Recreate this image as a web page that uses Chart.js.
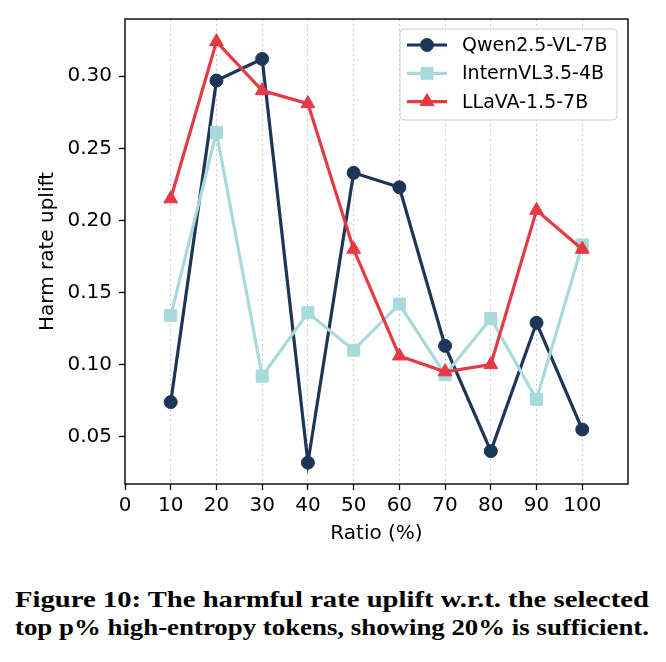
<!DOCTYPE html>
<html>
<head>
<meta charset="utf-8">
<script src="https://cdn.jsdelivr.net/npm/chart.js@4"></script>
<style>
  body { margin: 0; background: #fff; width: 666px; height: 662px; overflow: hidden; position: relative; }
  #wrap { position: absolute; left: 0; top: 0; width: 666px; height: 560px; }
  .cap { position: absolute; left: 15px; font-family: "Liberation Serif", serif; font-weight: bold;
         font-size: 24px; line-height: 26px; color: #000; white-space: nowrap; transform-origin: 0 0; }
</style>
</head>
<body>
<div id="wrap"><canvas id="harm"></canvas></div>
<span class="cap" style="top:586px">Figure 10: The harmful rate uplift w.r.t. the selected</span>
<span class="cap" style="top:614px">top p% high-entropy tokens, showing 20% is sufficient.</span>
<script>
// values
var ratios = [10, 20, 30, 40, 50, 60, 70, 80, 90, 100];
var qwen = [0.074, 0.297, 0.312, 0.032, 0.233, 0.223, 0.113, 0.040, 0.129, 0.055];
var internvl = [0.134, 0.261, 0.092, 0.136, 0.110, 0.142, 0.093, 0.132, 0.076, 0.183];
var llava = [0.215, 0.324, 0.290, 0.281, 0.180, 0.106, 0.095, 0.100, 0.207, 0.180];
var seriesNames = ['Qwen2.5-VL-7B', 'InternVL3.5-4B', 'LLaVA-1.5-7B'];
var xTicks = [0, 10, 20, 30, 40, 50, 60, 70, 80, 90, 100];
var yTicks = [0.05, 0.10, 0.15, 0.20, 0.25, 0.30];

var colors = ['#1d3557', '#a8dadc', '#e63946'];
var styles = ['circle', 'rect', 'triangle'];
var radii = [6.5, 8.5, 8];

// stretch caption lines to the column width
var caps = document.querySelectorAll('.cap');
for (var c = 0; c < caps.length; c++) {
  var w = caps[c].getBoundingClientRect().width;
  caps[c].style.transform = 'scaleX(' + (634 / w) + ')';
}

function pts(vals) {
  var out = [];
  for (var i = 0; i < ratios.length; i++) out.push({x: ratios[i], y: vals[i]});
  return out;
}

function mkDataset(i, vals) {
  return {
    label: seriesNames[i],
    data: pts(vals),
    borderColor: colors[i],
    backgroundColor: colors[i],
    pointBackgroundColor: colors[i],
    pointBorderColor: colors[i],
    pointStyle: styles[i],
    pointRadius: radii[i],
    pointHoverRadius: radii[i],
    pointBorderWidth: 1,
    borderWidth: 3.2,
    tension: 0,
    order: 3 - i
  };
}

function drawMarker(ctx, style, x, y, r) {
  ctx.beginPath();
  if (style == 'circle') {
    ctx.arc(x, y, r, 0, Math.PI * 2);
  } else if (style == 'rect') {
    var s = r * Math.SQRT1_2;
    ctx.rect(x - s, y - s, 2 * s, 2 * s);
  } else {
    var a = -Math.PI / 2;
    ctx.moveTo(x + Math.cos(a) * r, y + Math.sin(a) * r);
    for (var k = 1; k < 3; k++) {
      a += Math.PI * 2 / 3;
      ctx.lineTo(x + Math.cos(a) * r, y + Math.sin(a) * r);
    }
    ctx.closePath();
  }
  ctx.fill();
  ctx.stroke();
}

// frame round the axes + legend box in the upper right
var framePlugin = {
  id: 'framePlugin',
  afterDraw: function(chart) {
    var ctx = chart.ctx, a = chart.chartArea;
    ctx.save();
    ctx.strokeStyle = '#000';
    ctx.lineWidth = 1.4;
    ctx.strokeRect(a.left, a.top, a.right - a.left, a.bottom - a.top);

    var bx = 400, by = 29, bw = 217, bh = 91;
    ctx.beginPath();
    ctx.roundRect(bx, by, bw, bh, 4);
    ctx.fillStyle = 'rgba(255,255,255,0.8)';
    ctx.fill();
    ctx.strokeStyle = '#d0d0d0';
    ctx.lineWidth = 1;
    ctx.stroke();

    ctx.font = '19px "DejaVu Sans"';
    ctx.textBaseline = 'middle';
    ctx.textAlign = 'left';
    var ds = chart.data.datasets;
    for (var i = 0; i < ds.length; i++) {
      var yy = 45 + i * 28.3;
      ctx.strokeStyle = ds[i].borderColor;
      ctx.lineWidth = 3.2;
      ctx.beginPath();
      ctx.moveTo(407, yy);
      ctx.lineTo(447, yy);
      ctx.stroke();
      ctx.fillStyle = ds[i].borderColor;
      ctx.lineWidth = 1;
      drawMarker(ctx, ds[i].pointStyle, 427, yy, ds[i].pointRadius);
      ctx.fillStyle = '#000';
      ctx.fillText(ds[i].label, 462, yy + 1);
    }
    ctx.restore();
  }
};

var tickFont = {family: '"DejaVu Sans"', size: 20};

var ctx = document.getElementById('harm').getContext('2d');
var harmChart = new Chart(ctx, {
  type: 'line',
  data: {
    datasets: [mkDataset(0, qwen), mkDataset(1, internvl), mkDataset(2, llava)]
  },
  options: {
    responsive: true,
    maintainAspectRatio: false,
    animation: false,
    layout: { padding: { top: 19, right: 38, left: 0, bottom: 0 } },
    plugins: {
      legend: { display: false },
      title: { display: false },
      tooltip: { enabled: false }
    },
    scales: {
      x: {
        type: 'linear',
        min: 0,
        max: 110,
        afterBuildTicks: function(scale) {
          scale.ticks = xTicks.map(function(v) { return {value: v}; });
        },
        afterFit: function(scale) { scale.height = 76; },
        grid: {
          color: function(c) { return c.tick && c.tick.value === 0 ? 'rgba(0,0,0,0)' : 'rgba(0,0,0,0.22)'; },
          lineWidth: 1,
          tickColor: '#000',
          tickLength: 6,
          tickWidth: 1.3
        },
        border: { display: false, dash: [2, 3] },
        ticks: {
          color: '#000',
          font: tickFont,
          padding: 4,
          maxRotation: 0,
          autoSkip: false
        },
        title: {
          display: true,
          text: 'Ratio (%)',
          color: '#000',
          font: tickFont,
          padding: { top: 0, bottom: 14 }
        }
      },
      y: {
        min: 0.0172,
        max: 0.3397,
        afterBuildTicks: function(scale) {
          scale.ticks = yTicks.map(function(v) { return {value: v}; });
        },
        afterFit: function(scale) { scale.width = 125; },
        grid: {
          drawOnChartArea: false,
          tickColor: '#000',
          tickLength: 6,
          tickWidth: 1.3
        },
        border: { display: false },
        ticks: {
          color: '#000',
          font: tickFont,
          padding: 7,
          callback: function(v) { return v.toFixed(2); }
        },
        title: {
          display: true,
          text: 'Harm rate uplift',
          color: '#000',
          font: tickFont,
          padding: { top: 36, bottom: 0 }
        }
      }
    }
  },
  plugins: [framePlugin]
});
</script>
</body>
</html>
